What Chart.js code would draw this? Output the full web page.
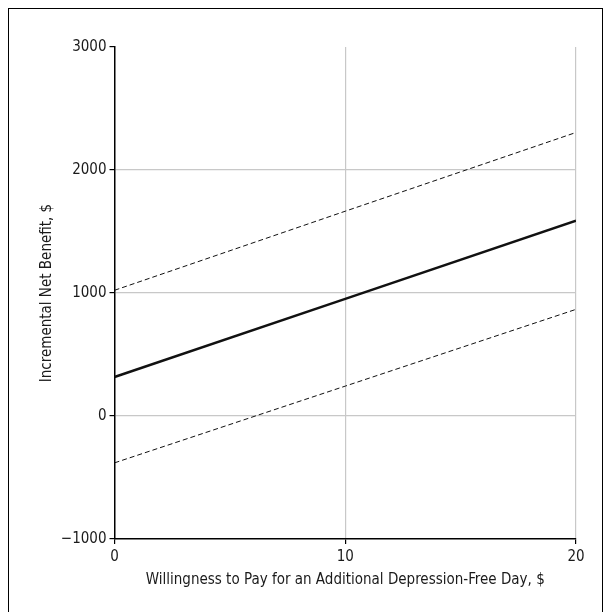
<!DOCTYPE html>
<html lang="en">
<head>
    <meta charset="UTF-8">
    <title>Incremental Net Benefit</title>
    <script src="https://cdn.jsdelivr.net/npm/chart.js"></script>
    <style>
        html, body { margin: 0; padding: 0; background: #fff; }
        #wrap { position: relative; width: 611px; height: 612px; }
        #frame { position: absolute; left: 8px; top: 8px; width: 595px; height: 610px;
                 border: 1px solid #000; box-sizing: border-box; pointer-events: none; }
    </style>
</head>
<body>
    <div id="wrap">
        <canvas id="inbChart" width="611" height="612"></canvas>
        <div id="frame"></div>
    </div>
    <script>
        // willingness to pay ($) and net benefit
        const wtp = [0, 10, 20];
        const estimate = [317, 952, 1587];
        const upperCI = [1022, 1665, 2305];
        const lowerCI = [-381, 243, 867];
        const yTicks = [-1000, 0, 1000, 2000, 3000];
        const xTicks = [0, 10, 20];

        const FONT = "'Liberation Sans Narrow', 'DejaVu Sans Condensed', 'Liberation Sans', sans-serif";
        Chart.defaults.font.family = FONT;
        Chart.defaults.font.size = 15;
        Chart.defaults.color = '#1a1a1a';

        const toXY = vals => wtp.map((w, i) => ({ x: w, y: vals[i] }));

        const line = (label, vals, width, dash) => ({
            label: label,
            data: toXY(vals),
            borderColor: '#111',
            borderWidth: width,
            borderDash: dash,
            pointRadius: 0,
            tension: 0,
            fill: false
        });

        new Chart(document.getElementById('inbChart'), {
            type: 'line',
            data: {
                datasets: [
                    line('Upper', upperCI, 1, [5, 3]),
                    line('Estimate', estimate, 2.5, []),
                    line('Lower', lowerCI, 1, [5, 3])
                ]
            },
            options: {
                responsive: false,
                animation: false,
                layout: { padding: { left: 0, right: 35, top: 47, bottom: 0 } },
                plugins: { legend: { display: false }, tooltip: { enabled: false } },
                scales: {
                    x: {
                        type: 'linear',
                        min: 0, max: 20,
                        afterBuildTicks: s => { s.ticks = xTicks.map(v => ({ value: v })); },
                        afterFit: s => { s.height = 73; },
                        border: { color: '#000', width: 1.5 },
                        grid: {
                            color: c => c.tick && c.tick.value === 0 ? 'rgba(0,0,0,0)' : '#c8c8c8',
                            lineWidth: 1.2,
                            tickColor: '#000',
                            tickLength: 5
                        },
                        ticks: { padding: 4, maxRotation: 0 },
                        title: {
                            display: true,
                            text: 'Willingness to Pay for an Additional Depression-Free Day, $',
                            padding: { top: 4, bottom: 23 }
                        }
                    },
                    y: {
                        type: 'linear',
                        min: -1000, max: 3000,
                        afterBuildTicks: s => { s.ticks = yTicks.map(v => ({ value: v })); },
                        afterFit: s => { s.width = 114.5; },
                        border: { color: '#000', width: 1.5 },
                        grid: {
                            color: c => c.tick && (c.tick.value === 3000 || c.tick.value === -1000) ? 'rgba(0,0,0,0)' : '#c8c8c8',
                            lineWidth: 1.2,
                            tickColor: '#000',
                            tickLength: 5
                        },
                        ticks: {
                            padding: 3,
                            callback: v => v < 0 ? '\u2212' + Math.abs(v) : String(v)
                        },
                        title: {
                            display: true,
                            text: 'Incremental Net Benefit, $',
                            padding: { top: 38, bottom: 0 }
                        }
                    }
                }
            }
        });
    </script>
</body>
</html>
